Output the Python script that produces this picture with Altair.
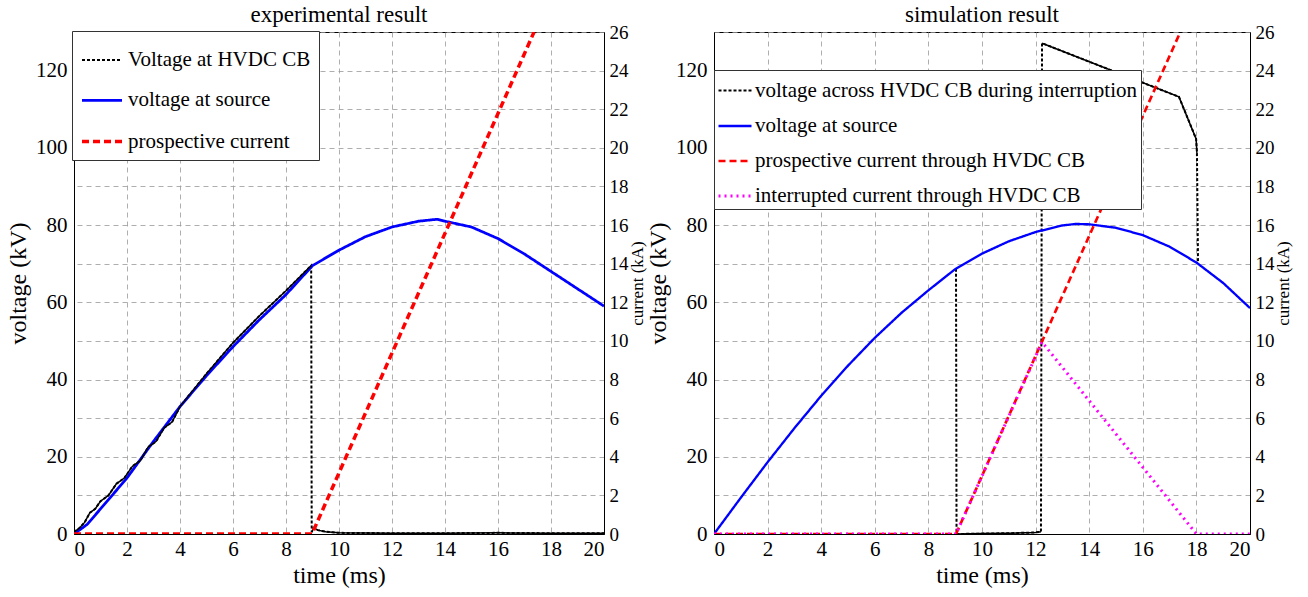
import altair as alt
import pandas as pd

FONT = "Liberation Serif"

# ---------------- experimental (left) ----------------
exp_src_t = [0, 0.5, 1, 1.5, 2, 3, 4, 5, 6, 7, 8, 9, 10, 11, 12, 13, 13.7, 14, 15, 16, 17, 18, 19, 20]
exp_src_v = [0, 2.5, 6.5, 10.5, 14.5, 24, 33, 41, 48.5, 55.5, 62, 69.5, 73.5, 77, 79.5, 81, 81.5, 81, 79.5, 76.5, 72.5, 68, 63.5, 59]

exp_cb_t = [0, 0.2, 0.4, 0.6, 0.8, 1.0, 1.3, 1.6, 1.9, 2.2, 2.5, 2.8, 3.1, 3.4, 3.7, 4.0, 5, 6, 7, 8, 8.95,
            8.97, 9.05, 9.2, 9.5, 10, 12, 14, 16, 18, 20]
exp_cb_v = [0.5, 1.5, 3.0, 5.5, 6.5, 8.5, 10, 13, 14.5, 17.5, 19, 22.5, 24, 27.5, 29, 33, 41.5, 49.5, 56.5, 63, 69.5,
            0.5, 1.6, 1.0, 0.6, 0.3, 0.2, 0.2, 0.3, 0.2, 0.2]
exp_cb_solid_idx = [(0, 20), (21, 30)]

exp_cur_t = [0, 8.98, 17.36]
exp_cur_i = [0, 0, 26]

# ---------------- simulation (right) ----------------
sim_src_t = [0, 1, 2, 3, 4, 5, 6, 7, 8, 9, 10, 11, 12, 13, 13.5, 14, 15, 16, 17, 18, 19, 20]
sim_src_v = [0, 9.4, 18.6, 27.4, 35.8, 43.6, 50.8, 57.3, 63.1, 68.6, 72.6, 75.8, 78.2, 79.9, 80.3, 80.2, 79.3, 77.4, 74.4, 70.3, 65.0, 58.5]

sim_cb_t = [9.03, 9.05, 10, 11, 12, 12.2, 12.24, 17.35, 17.99, 18.02, 18.06]
sim_cb_v = [68.7, 0, 0.1, 0.2, 0.4, 0.6, 127.1, 113.2, 102.3, 98.7, 70.1]
sim_cb_solid_idx = [(1, 5), (6, 9)]

sim_pro_t = [0, 9.03, 17.4]
sim_pro_i = [0, 0, 26]

sim_int_t = [0, 9.03, 12.24, 18.0, 20]
sim_int_i = [0, 0, 9.94, 0, 0]

# ---------------- series styling ----------------
EXP_SERIES = ["Voltage at HVDC CB", "voltage at source", "prospective current"]
SIM_SERIES = ["voltage across HVDC CB during interruption", "voltage at source",
              "prospective current through HVDC CB", "interrupted current through HVDC CB"]
EXP_COLORS = ["black", "#0000ff", "#ff0000"]
SIM_COLORS = ["black", "#0000ff", "#ff0000", "#ff00ff"]
EXP_DASH = [[3, 2], [1, 0], [7, 4]]
SIM_DASH = [[3, 2], [1, 0], [7, 4], [2, 4]]
EXP_W = [2, 3.5, 2]
SIM_W = [2, 3, 2, 2]


def long_df(pairs):
    rows = []
    for name, ts, vs in pairs:
        for i, (t, v) in enumerate(zip(ts, vs)):
            rows.append({"t": t, "v": v, "series": name, "i": i})
    return pd.DataFrame(rows)


def solid_df(ts, vs, idx):
    rows = []
    for k, (a, b) in enumerate(idx):
        for j in range(a, b + 1):
            rows.append({"t": ts[j], "v": vs[j], "seg": k, "i": j})
    return pd.DataFrame(rows)


def make_panel(title, volt_df, curr_df, solid, series, colors, dashes, widths, width,
               leg_x, leg_y, rowpad, symsize, legpad, laboff):
    legend = alt.Legend(
        title=None, orient="none", legendX=leg_x, legendY=leg_y,
        strokeColor="#333", fillColor="white", padding=legpad,
        labelFont=FONT, labelFontSize=21, labelColor="black",
        symbolType="stroke", symbolSize=symsize, rowPadding=rowpad,
        labelOffset=laboff, labelLimit=600,
    )
    color = alt.Color("series:N", scale=alt.Scale(domain=series, range=colors), legend=legend)
    dash = alt.StrokeDash("series:N", scale=alt.Scale(domain=series, range=dashes), legend=legend)
    sw = alt.StrokeWidth("series:N", scale=alt.Scale(domain=series, range=widths), legend=legend)

    x = alt.X("t:Q", scale=alt.Scale(domain=[0, 20], nice=False, zero=False),
              axis=alt.Axis(values=list(range(0, 21, 2)), grid=True, title="time (ms)",
                            labelFont=FONT, titleFont=FONT,
                            titleFontSize=24, labelFontSize=21, titlePadding=4, labelPadding=4))
    yv = alt.Y("v:Q", scale=alt.Scale(domain=[0, 130], nice=False),
               axis=alt.Axis(values=list(range(0, 121, 20)), grid=False, title="voltage (kV)",
                             labelFont=FONT, titleFont=FONT,
                             titleFontSize=24, labelFontSize=21, titlePadding=5, labelPadding=7))
    yc = alt.Y("v:Q", scale=alt.Scale(domain=[0, 26], nice=False),
               axis=alt.Axis(orient="right", values=list(range(0, 27, 2)), grid=True, title="current (kA)",
                             labelFont=FONT, titleFont=FONT, titleAngle=270, titleBaseline="top",
                             titleFontSize=17, labelFontSize=19, titlePadding=1, labelPadding=5))

    volt = alt.Chart(volt_df).mark_line(clip=True).encode(
        x=x, y=yv, color=color, strokeDash=dash, strokeWidth=sw, order="i:Q")
    over = alt.Chart(solid).mark_line(clip=True, color="black", strokeWidth=1.5).encode(
        x=x, y=yv, detail="seg:N", order="i:Q")
    curr = alt.Chart(curr_df).mark_line(clip=True).encode(
        x=x, y=yc, color=color, strokeDash=dash, strokeWidth=sw, order="i:Q")

    return alt.layer(alt.layer(volt, over), curr).resolve_scale(y="independent").properties(
        width=width, height=502,
        title=alt.TitleParams(title, font=FONT, fontSize=23, fontWeight="normal", color="black",
                              offset=0, dy=4),
    )


exp_volt = long_df([("Voltage at HVDC CB", exp_cb_t, exp_cb_v), ("voltage at source", exp_src_t, exp_src_v)])
exp_curr = long_df([("prospective current", exp_cur_t, exp_cur_i)])
exp_solid = solid_df(exp_cb_t, exp_cb_v, exp_cb_solid_idx)

sim_volt = long_df([("voltage across HVDC CB during interruption", sim_cb_t, sim_cb_v),
                    ("voltage at source", sim_src_t, sim_src_v)])
sim_curr = long_df([("prospective current through HVDC CB", sim_pro_t, sim_pro_i),
                    ("interrupted current through HVDC CB", sim_int_t, sim_int_i)])
sim_solid = solid_df(sim_cb_t, sim_cb_v, sim_cb_solid_idx)

left = make_panel("experimental result", exp_volt, exp_curr, exp_solid,
                  EXP_SERIES, EXP_COLORS, EXP_DASH, EXP_W, 530, -2, -1, 8.8, 1600, 8, 4)
right = make_panel("simulation result", sim_volt, sim_curr, sim_solid,
                   SIM_SERIES, SIM_COLORS, SIM_DASH, SIM_W, 536, 0, 38, 7, 1089, 3, 2)

chart = alt.hconcat(left, right, spacing=0).resolve_scale(color="independent", strokeDash="independent",
                                                          strokeWidth="independent").properties(
    padding={"left": 6, "top": 3, "right": 2, "bottom": 2}
).configure(font=FONT).configure_view(stroke="black", strokeWidth=1).configure_axis(
    labelFont=FONT, titleFont=FONT, labelColor="black", titleColor="black",
    titleFontWeight="normal", domainColor="black", ticks=False,
    gridColor="#999", gridDash=[5, 4], gridWidth=0.8,
).configure_legend(labelFont=FONT).configure_title(font=FONT)

chart.save("out.html", embed_options={"renderer": "svg", "actions": False})
